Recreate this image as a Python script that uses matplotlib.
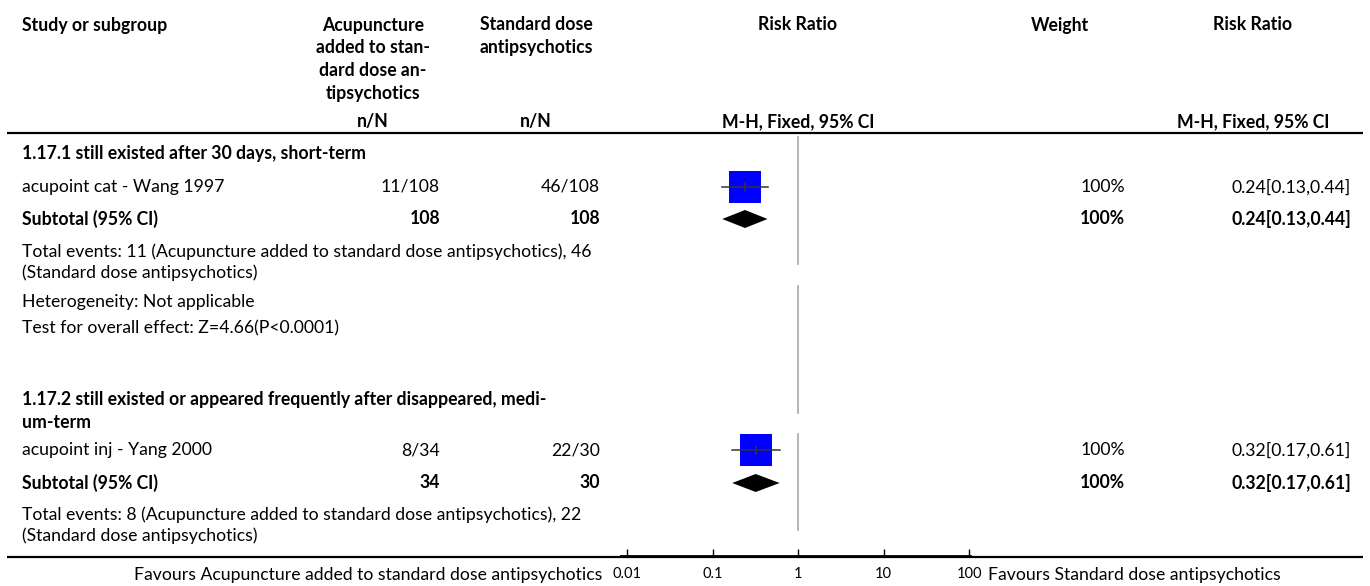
import matplotlib
matplotlib.use('Agg')
import matplotlib.pyplot as plt

# data
subgroups = ['1.17.1 still existed after 30 days, short-term',
             '1.17.2 still existed or appeared frequently after disappeared, medi-\num-term']
studies = ['acupoint cat - Wang 1997', 'acupoint inj - Yang 2000']
exp_events = [11, 8]
exp_total = [108, 34]
ctl_events = [46, 22]
ctl_total = [108, 30]
rr = [0.24, 0.32]
ci_low = [0.13, 0.17]
ci_high = [0.44, 0.61]
weights = [100, 100]
heterogeneity = ['Not applicable', None]
overall_z = ['Z=4.66(P<0.0001)', None]
ticks = [0.01, 0.1, 1, 10, 100]

exp_name = 'Acupuncture added to standard dose antipsychotics'
ctl_name = 'Standard dose antipsychotics'
exp_head = 'Acupuncture\nadded to stan-\ndard dose an-\ntipsychotics'
ctl_head = 'Standard dose\nantipsychotics'

plt.rcParams['font.family'] = ['Lato', 'DejaVu Sans']
FS = 12.7

W, H = 1370, 586
fig = plt.figure(figsize=(W / 100, H / 100), dpi=100)
ax = fig.add_axes([0, 0, 1, 1])
ax.set_xlim(0, W)
ax.set_ylim(H, 0)
ax.axis('off')

# column anchors (pixels)
x_left = 22
x_exp, x_ctl = 440, 600
x_exp_c, x_ctl_c = 373, 536
x_wt, x_wt_c = 1125, 1060
x_ci, x_ci_c = 1351, 1253
x_plot_c = 798


def txt(x, y, s, ha='left', bold=False, step=21, size=FS):
    # one text per line so that the line pitch matches the reference
    for k, line in enumerate(s.split('\n')):
        ax.text(x, y + k * step, line, ha=ha, va='center', fontsize=size,
                fontweight='bold' if bold else 'normal')


# header
txt(x_left, 25, 'Study or subgroup', bold=True)
txt(x_exp_c, 25, exp_head, ha='center', bold=True, step=22.7)
txt(x_ctl_c, 25, ctl_head, ha='center', bold=True, step=22.7)
txt(x_plot_c, 25, 'Risk Ratio', ha='center', bold=True)
txt(x_wt_c, 25, 'Weight', ha='center', bold=True)
txt(x_ci_c, 25, 'Risk Ratio', ha='center', bold=True)
txt(x_exp_c, 122, 'n/N', ha='center', bold=True)
txt(x_ctl_c, 122, 'n/N', ha='center', bold=True)
txt(x_plot_c, 122, 'M-H, Fixed, 95% CI', ha='center', bold=True)
txt(x_ci_c, 122, 'M-H, Fixed, 95% CI', ha='center', bold=True)

ax.plot([7, 1363], [133, 133], color='black', lw=1.6, solid_capstyle='butt')
ax.plot([7, 1363], [557, 557], color='black', lw=1.6, solid_capstyle='butt')

# forest plot axes, mapped onto the pixel grid
px_dec = (969 - 627) / 4
x0, x1 = 621, 970
lo = 0.01 * 10 ** ((x0 - 627) / px_dec)
hi = 100 * 10 ** ((x1 - 969) / px_dec)
y_top, y_bot = 133, 556
fa = fig.add_axes([x0 / W, (H - y_bot) / H, (x1 - x0) / W, (y_bot - y_top) / H])
fa.set_xscale('log')
fa.set_xlim(lo, hi)
fa.set_ylim(y_bot, y_top)
fa.patch.set_alpha(0)
for s in ['top', 'left', 'right']:
    fa.spines[s].set_visible(False)
fa.spines['bottom'].set_linewidth(2)
fa.set_yticks([])
fa.set_xticks(ticks)
fa.set_xticklabels([f'{t:g}' for t in ticks])
fa.minorticks_off()
fa.tick_params(axis='x', direction='in', length=5, width=1, pad=8, labelsize=10.5)

# line of no effect
for a, b in [(137, 264), (286, 413), (434, 530)]:
    fa.plot([1, 1], [a, b], color='#a8a8a8', lw=1.2)

# rows
group_rows = [
    dict(title=153, study=187, sub=219, events=252, het=302, test=328),
    dict(title=400, study=450, sub=483, events=515, het=None, test=None),
]

for i, r in enumerate(group_rows):
    txt(x_left, r['title'], subgroups[i], bold=True, step=22)

    y = r['study']
    txt(x_left, y, studies[i])
    txt(x_exp, y, f'{exp_events[i]}/{exp_total[i]}', ha='right')
    txt(x_ctl, y, f'{ctl_events[i]}/{ctl_total[i]}', ha='right')
    txt(x_wt, y, f'{weights[i]}%', ha='right')
    txt(x_ci, y, f'{rr[i]:.2f}[{ci_low[i]:.2f},{ci_high[i]:.2f}]', ha='right')
    fa.scatter([rr[i]], [y], marker='s', s=500, color='#0000ff', zorder=2, linewidths=0)
    fa.plot([ci_low[i], ci_high[i]], [y, y], color='#333333', lw=1.1, zorder=3)
    fa.plot([rr[i], rr[i]], [y - 4, y + 4], color='#333333', lw=1.1, zorder=3)

    y = r['sub']
    txt(x_left, y, 'Subtotal (95% CI)', bold=True)
    txt(x_exp, y, f'{exp_total[i]}', ha='right', bold=True)
    txt(x_ctl, y, f'{ctl_total[i]}', ha='right', bold=True)
    txt(x_wt, y, f'{weights[i]}%', ha='right', bold=True)
    txt(x_ci, y, f'{rr[i]:.2f}[{ci_low[i]:.2f},{ci_high[i]:.2f}]', ha='right', bold=True)
    fa.fill([ci_low[i], rr[i], ci_high[i], rr[i]], [y, y - 9, y, y + 9], color='black', lw=0, zorder=3)

    txt(x_left, r['events'],
        f'Total events: {exp_events[i]} ({exp_name}), {ctl_events[i]}\n({ctl_name})')
    if heterogeneity[i]:
        txt(x_left, r['het'], f'Heterogeneity: {heterogeneity[i]}')
    if overall_z[i]:
        txt(x_left, r['test'], f'Test for overall effect: {overall_z[i]}')

# favours labels
txt(602, 575, f'Favours {exp_name}', ha='right')
txt(988, 575, f'Favours {ctl_name}', ha='left')

fig.savefig('out.png', dpi=100)
